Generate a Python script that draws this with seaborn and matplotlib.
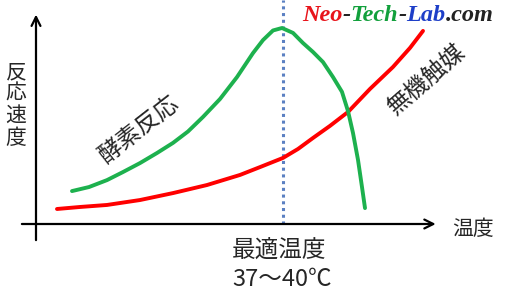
import matplotlib
matplotlib.use("Agg")
import matplotlib.pyplot as plt
import seaborn as sns
import pandas as pd

# ---- data (temperature in degC, reaction rate in arbitrary units) ----
enzyme_temp = [5.61, 8.26, 11.07, 13.56, 16.21, 18.86, 21.35, 23.69, 26.03,
               28.68, 31.33, 33.82, 35.38, 36.94, 38.34, 40.06, 41.61, 43.17,
               44.73, 46.29, 47.69, 48.63, 49.41, 50.19, 50.81, 51.28]
enzyme_rate = [14.7, 16.5, 19.6, 23.2, 27.2, 31.7, 36.2, 41.3, 47.8,
               55.8, 65.6, 76.3, 82.1, 86.4, 87.5, 85.3, 80.8, 76.8,
               72.3, 65.6, 59.0, 50.4, 40.6, 28.6, 16.5, 7.1]
catalyst_temp = [3.27, 6.86, 11.07, 16.21, 21.35, 24.00, 26.65, 31.80, 34.91,
                 38.50, 40.84, 43.17, 45.82, 48.63, 52.06, 55.64, 58.29, 60.32]
catalyst_rate = [6.7, 7.6, 8.5, 10.7, 13.8, 15.6, 17.4, 21.9, 25.4,
                 29.5, 33.5, 38.4, 43.8, 50.0, 60.3, 70.1, 78.6, 86.2]
optimum_temp = 38.5

labels = {
    "y": "反応速度",
    "x": "温度",
    "enzyme": "酵素反応",
    "catalyst": "無機触媒",
    "opt1": "最適温度",
    "opt2": "37～40℃",
}
brand_parts = ["Neo", "-", "Tech", "-", "Lab", ".com"]
brand_colors = ["#E8141B", "#222222", "#12A03C", "#222222", "#1E3FC8", "#222222"]

df_enz = pd.DataFrame({"temp": enzyme_temp, "rate": enzyme_rate})
df_cat = pd.DataFrame({"temp": catalyst_temp, "rate": catalyst_rate})

sns.set_theme(style="white")
plt.rcParams["font.family"] = ["Noto Sans CJK JP", "DejaVu Sans"]

W, H = 505, 294
fig = plt.figure(figsize=(W / 100, H / 100), dpi=100)
ax = fig.add_axes([0, 0, 1, 1])
ax.set_xlim(-5.611, 73.10)
ax.set_ylim(-31.25, 100)
ax.axis("off")

# axes with arrows
arrow_kw = dict(arrowstyle="->", lw=1.6, color="black", mutation_scale=16,
                shrinkA=0, shrinkB=0)
ax.annotate("", xy=(62.3, 0), xytext=(-2.2, 0), arrowprops=arrow_kw)
ax.annotate("", xy=(0, 93.5), xytext=(0, -7.2), arrowprops=arrow_kw)

# optimum dotted line
ax.vlines(optimum_temp, 0, 100, colors="#5B80C2", linestyles=(0, (1.0, 1.2)),
          lw=2.2, zorder=1)

line_kw = dict(lw=2.8, sort=False, legend=False, solid_capstyle="round",
               solid_joinstyle="round")
sns.lineplot(data=df_cat, x="temp", y="rate", ax=ax, color="#FF0000",
             zorder=3, **line_kw)
sns.lineplot(data=df_enz, x="temp", y="rate", ax=ax, color="#1DB14E",
             zorder=4, **line_kw)


def fx(px):
    return px / W


def fy(py):
    return 1 - py / H


# vertical y label
for i, ch in enumerate(labels["y"]):
    fig.text(fx(16), fy(72 + 22 * i), ch, fontsize=15, ha="center", va="center")

fig.text(fx(473), fy(229), labels["x"], fontsize=15, ha="center", va="center")
fig.text(fx(232), fy(251), labels["opt1"], fontsize=17, ha="left", va="center")
fig.text(fx(232), fy(280), labels["opt2"], fontsize=17, ha="left", va="center")

fig.text(fx(140), fy(130), labels["enzyme"], fontsize=17, ha="center",
         va="center", rotation=38, rotation_mode="anchor")
fig.text(fx(427), fy(80), labels["catalyst"], fontsize=17, ha="center",
         va="center", rotation=41, rotation_mode="anchor")

# brand text in coloured pieces
prev = fig.text(fx(302), fy(21), brand_parts[0], color=brand_colors[0],
                fontsize=17.5, family="Liberation Serif", weight="bold",
                style="italic", ha="left", va="baseline")
for part, col in zip(brand_parts[1:], brand_colors[1:]):
    prev = ax.annotate(part, xy=(1, 0), xycoords=prev, xytext=(0, 0),
                       textcoords="offset points", color=col, fontsize=17.5,
                       family="Liberation Serif", weight="bold",
                       style="italic", ha="left", va="bottom")

fig.savefig("out.png", dpi=100, facecolor="white")
